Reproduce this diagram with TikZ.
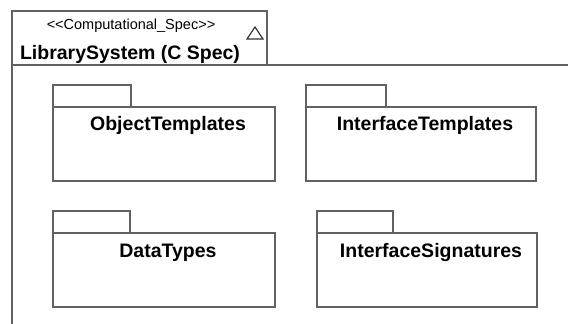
\documentclass[tikz,border=0pt]{standalone}
\usepackage{fontspec}
\setmainfont{Liberation Sans}
\begin{document}
\begin{tikzpicture}[x=1pt,y=-1pt,
  frameline/.style={draw=black!62,line width=1.3pt},
  pkgbody/.style={rectangle,draw=black!62,line width=1.3pt,inner sep=0pt,outer sep=0pt,minimum height=74pt},
  pkgname/.style={font=\fontsize{19.5}{22}\selectfont\bfseries,inner sep=0pt,anchor=base}]
\useasboundingbox (0,0) rectangle (568,324);
% Outer frame with its name tab
\draw[frameline] (12,324) -- (12,11) -- (267,11) -- (267,65);
\draw[frameline] (12,65) -- (568,65);
\node[font=\fontsize{14.5}{16}\selectfont,inner sep=0pt] (stereo) at (131,26) {<{}<Computational\_Spec>{}>};
\node[pkgname] (sysname) at (130,59) {LibrarySystem (C Spec)};
\draw[frameline,draw=black!80,line width=1.2pt] (247,39) -- (263,39) -- (255,27) -- cycle;
% Top row of packages
\node[pkgbody,minimum width=222pt] (obj) at (164,144) {};
\draw[frameline] (obj.north west) rectangle ++(78,-22);
\node[pkgname] (objname) at ([shift={(4,23)}]obj.north) {ObjectTemplates};
\node[pkgbody,minimum width=230pt] (ift) at (421,144) {};
\draw[frameline] (ift.north west) rectangle ++(80,-22);
\node[pkgname] (iftname) at ([shift={(4,23)}]ift.north) {InterfaceTemplates};
% Bottom row of packages
\node[pkgbody,minimum width=222pt] (dtp) at (164,270) {};
\draw[frameline] (dtp.north west) rectangle ++(77,-22);
\node[pkgname] (dtpname) at ([shift={(4,24)}]dtp.north) {DataTypes};
\node[pkgbody,minimum width=220pt] (ifs) at (427,270) {};
\draw[frameline] (ifs.north west) rectangle ++(76,-22);
\node[pkgname] (ifsname) at ([shift={(4,24)}]ifs.north) {InterfaceSignatures};
\end{tikzpicture}
\end{document}
